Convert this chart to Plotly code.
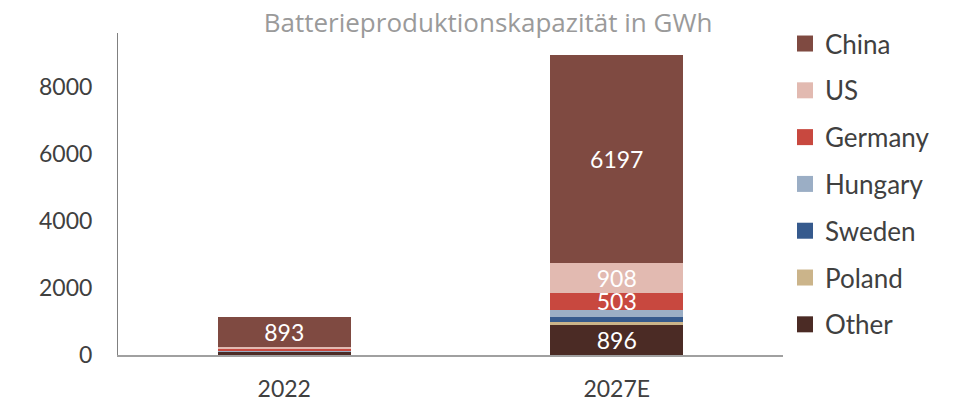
import plotly.graph_objects as go

categories = ["2022", "2027E"]
series_names = ["Other", "Poland", "Sweden", "Hungary", "Germany", "US", "China"]
other = [90, 896]
poland = [10, 100]
sweden = [10, 150]
hungary = [20, 200]
germany = [65, 503]
us = [55, 908]
china = [893, 6197]
values = [other, poland, sweden, hungary, germany, us, china]
shown_labels = {
    "Other": [False, True],
    "Germany": [False, True],
    "US": [False, True],
    "China": [True, True],
}
colors = {
    "China": "#7F4A41",
    "US": "#E2BAB1",
    "Germany": "#C8483F",
    "Hungary": "#9BAEC5",
    "Sweden": "#365A8D",
    "Poland": "#CBB48A",
    "Other": "#4B2B25",
}
y_ticks = [0, 2000, 4000, 6000, 8000]

FONT = "Lato"
fig = go.Figure()
for name, vals in zip(series_names, values):
    flags = shown_labels.get(name, [False, False])
    fig.add_trace(go.Bar(
        x=categories, y=vals, name=name,
        marker=dict(color=colors[name], line=dict(width=0)),
        text=[str(v) if f else "" for v, f in zip(vals, flags)],
        textposition="inside", insidetextanchor="middle", textangle=0,
        constraintext="none",
        textfont=dict(color="white", size=23, family=FONT),
        showlegend=False, hoverinfo="skip",
    ))
# legend entries (square markers), China first
for name in reversed(series_names):
    fig.add_trace(go.Scatter(
        x=[None], y=[None], mode="markers", name=name,
        marker=dict(symbol="square", size=16, color=colors[name]),
        legendgroup=name, showlegend=True,
    ))

fig.update_layout(
    barmode="stack", bargap=0.6,
    width=945, height=396,
    margin=dict(l=110, r=170, t=25, b=49),
    paper_bgcolor="white", plot_bgcolor="white",
    font=dict(family=FONT, color="#404040", size=23),
    title=dict(text="Batterieproduktionskapazität in GWh", x=0.508, xanchor="center",
               xref="container", yref="container",
               y=0.962, yanchor="middle", font=dict(size=26, color="#9a9a9a", family="Open Sans")),
    legend=dict(x=1.003, xanchor="left", y=1.04, yanchor="top",
                traceorder="grouped", tracegroupgap=10, maxheight=1.0,
                font=dict(size=26, color="#404040", family=FONT),
                itemwidth=30, bgcolor="rgba(0,0,0,0)"),
    showlegend=True,
)
fig.update_xaxes(showline=True, linecolor="#a0a0a0", linewidth=1.5, ticks="",
                 ticklabelstandoff=13, automargin=False,
                 tickfont=dict(size=23, color="#404040"))
fig.update_yaxes(range=[0, 9600], tickvals=y_ticks, showgrid=False, zeroline=False,
                 showline=True, linecolor="#808080", linewidth=1, ticks="",
                 ticklabelstandoff=20, automargin=False,
                 tickfont=dict(size=23, color="#404040"))
fig.write_html("out.html")
